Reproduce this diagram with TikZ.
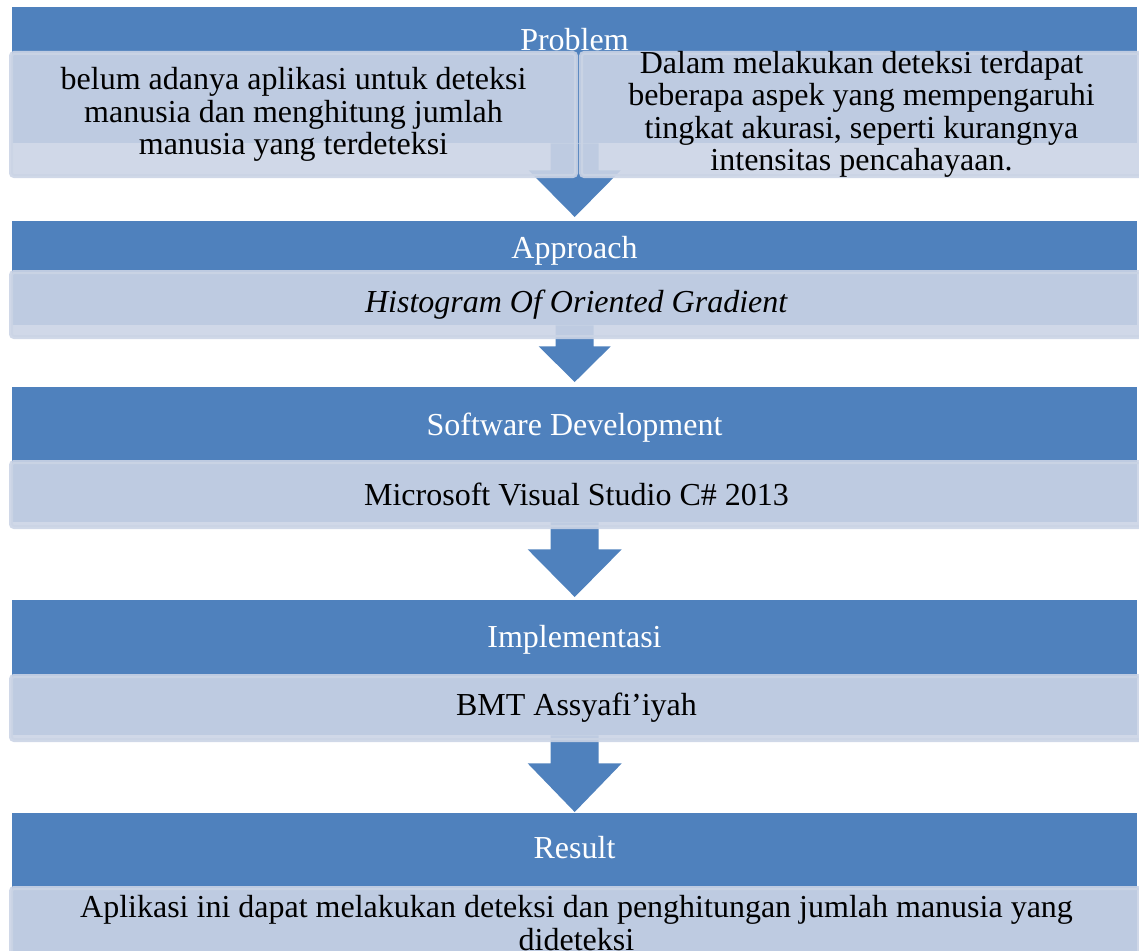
\documentclass[tikz,border=0pt]{standalone}
\usepackage{fontspec}
\setmainfont{Liberation Serif}
\usetikzlibrary{calc}
\definecolor{stageblue}{RGB}{79,129,189}
\definecolor{stagelight}{RGB}{203,212,229}
\tikzset{
  stage/.style={
    rectangle, fill=stageblue, inner sep=0pt, anchor=north west,
    minimum width=1125pt,
  },
  stagehead/.style={
    anchor=base, text=white, inner sep=0pt,
    font=\fontsize{32}{32.5}\selectfont,
  },
  detail/.style={
    rectangle, fill=stagelight, fill opacity=0.9, draw=stagelight,
    draw opacity=0.9, line width=4pt, rounded corners=3pt, text opacity=1,
    inner sep=0pt, anchor=north west, align=center,
    font=\fontsize{32}{32.5}\selectfont,
  },
  downarrow/.style={
    fill=stageblue,
  }
}

\begin{document}
\begin{tikzpicture}[x=1pt, y=-1pt]
  \useasboundingbox (0,0) rectangle (1139,950);

  % blue stage bands
  \node[stage, minimum height=136pt] (sprob) at (12,7)   {};
  \node[stage, minimum height=104pt] (sappr) at (12,221) {};
  \node[stage, minimum height=135pt] (ssoft) at (12,387) {};
  \node[stage, minimum height=135pt] (simpl) at (12,600) {};
  \node[stage, minimum height=150pt] (sres)  at (12,813) {};

  \node[stagehead] (hprob) at (574.5,51)  {Problem};
  \node[stagehead] (happr) at (574.5,258) {Approach};
  \node[stagehead] (hsoft) at (574.5,435) {Software Development};
  \node[stagehead] (himpl) at (574.5,647) {Implementasi};
  \node[stagehead] (hres)  at (574.5,858) {Result};

  % block arrows between the bands
  \fill[downarrow] ($(sprob.south)+(-24,0)$) -- ($(sprob.south)+(24,0)$)
    -- ($(sprob.south)+(24,27)$) -- ($(sprob.south)+(46,27)$)
    -- ($(sappr.north)+(0,-4)$) -- ($(sprob.south)+(-46,27)$)
    -- ($(sprob.south)+(-24,27)$) -- cycle;
  \fill[downarrow] ($(sappr.south)+(-19,0)$) -- ($(sappr.south)+(19,0)$)
    -- ($(sappr.south)+(19,21)$) -- ($(sappr.south)+(36,21)$)
    -- ($(ssoft.north)+(0,-5)$) -- ($(sappr.south)+(-36,21)$)
    -- ($(sappr.south)+(-19,21)$) -- cycle;
  \fill[downarrow] ($(ssoft.south)+(-24,0)$) -- ($(ssoft.south)+(24,0)$)
    -- ($(ssoft.south)+(24,27)$) -- ($(ssoft.south)+(47,27)$)
    -- ($(simpl.north)+(0,-3)$) -- ($(ssoft.south)+(-47,27)$)
    -- ($(ssoft.south)+(-24,27)$) -- cycle;
  \fill[downarrow] ($(simpl.south)+(-24,0)$) -- ($(simpl.south)+(24,0)$)
    -- ($(simpl.south)+(24,28)$) -- ($(simpl.south)+(47,28)$)
    -- ($(sres.north)+(0,-1)$) -- ($(simpl.south)+(-47,28)$)
    -- ($(simpl.south)+(-24,28)$) -- cycle;

  % detail boxes over the bands
  \node[detail, minimum width=565pt, minimum height=123pt] (dproba) at (9,51)
    {belum adanya aplikasi untuk deteksi\\manusia dan menghitung jumlah\\manusia yang terdeteksi};
  \node[detail, minimum width=561pt, minimum height=123pt, inner ysep=-3pt] (dprobb) at (579,51)
    {Dalam melakukan deteksi terdapat\\beberapa aspek yang mempengaruhi\\tingkat akurasi, seperti kurangnya\\intensitas pencahayaan.};
  \node[detail, minimum width=1131pt, minimum height=65pt] (dappr) at (9,270)
    {\textit{Histogram Of Oriented Gradient}};
  \node[detail, minimum width=1131pt, minimum height=65pt] (dsoft) at (9,460)
    {Microsoft Visual Studio C\# 2013};
  \node[detail, minimum width=1131pt, minimum height=64pt] (dimpl) at (9,674)
    {BMT Assyafi’iyah};
  \node[detail, minimum width=1131pt, minimum height=70pt] (dres) at (9,886)
    {Aplikasi ini dapat melakukan deteksi dan penghitungan jumlah manusia yang\\dideteksi};

\end{tikzpicture}
\end{document}
